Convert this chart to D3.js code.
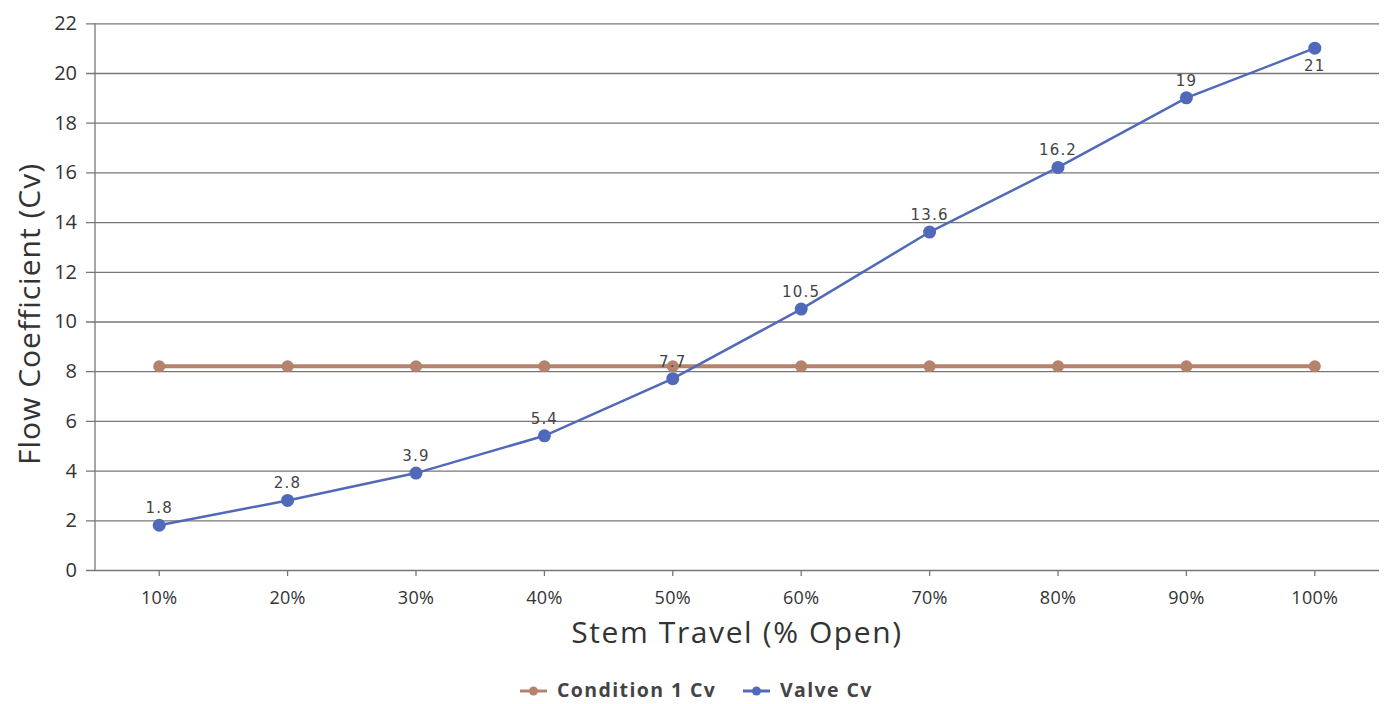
<!DOCTYPE html>
<html><head><meta charset="utf-8">
<script src="https://cdn.jsdelivr.net/npm/d3@7"></script>
<style>body{margin:0;background:#fff;font-family:"Open Sans","Noto Sans",sans-serif;}</style>
</head><body>
<svg id="c" width="1386" height="704"></svg>
<script>
const categories = ["10%","20%","30%","40%","50%","60%","70%","80%","90%","100%"];
const condition1Cv = [8.2,8.2,8.2,8.2,8.2,8.2,8.2,8.2,8.2,8.2];
const valveCv = [1.8,2.8,3.9,5.4,7.7,10.5,13.6,16.2,19,21];
const yTicks = [0,2,4,6,8,10,12,14,16,18,20,22];
const seriesNames = ["Condition 1 Cv","Valve Cv"];
const colors = ["#b5826b","#5069b8"];

const svg = d3.select("#c");
const L=95,R=1379,T=23.3,B=570;
const x = d3.scaleBand().domain(categories).range([L,R]);
const y = d3.scaleLinear().domain([0,22]).range([B,T]);
const font='"Open Sans","Noto Sans",sans-serif';

// grid
const gy = svg.append("g").attr("transform",`translate(${L},0)`)
  .call(d3.axisLeft(y).tickValues(yTicks).tickSize(-(R-L)).tickPadding(10).tickSizeOuter(0));
gy.select(".domain").remove();
gy.selectAll(".tick line").attr("stroke","#777").attr("stroke-width",1.3).attr("x1",-9);
gy.selectAll(".tick text").attr("font-size",20).attr("fill","#333").attr("font-family",font).attr("x",-18);

// y axis line
svg.append("line").attr("x1",L).attr("x2",L).attr("y1",T).attr("y2",B).attr("stroke","#777").attr("stroke-width",1.3);

// x axis
const gx = svg.append("g").attr("transform",`translate(0,${B})`)
  .call(d3.axisBottom(x).tickSize(6).tickPadding(15).tickSizeOuter(0));
gx.select(".domain").remove();
gx.selectAll(".tick line").attr("stroke","#777").attr("stroke-width",1.3);
gx.selectAll(".tick text").attr("font-size",18).attr("fill","#333").attr("font-family",font).attr("letter-spacing",0.3);

// titles
svg.append("text").attr("x",737).attr("y",643).attr("text-anchor","middle")
  .attr("font-size",30).attr("letter-spacing",1.6).attr("fill","#333").attr("font-family",font).text("Stem Travel (% Open)");
svg.append("text").attr("transform",`translate(40,314) rotate(-90)`).attr("text-anchor","middle")
  .attr("font-size",30).attr("letter-spacing",1).attr("fill","#333").attr("font-family",font).text("Flow Coefficient (Cv)");

const cx = c => x(c)+x.bandwidth()/2;
const line = d3.line().x((d,i)=>cx(categories[i])).y(d=>y(d));

// condition series
svg.append("path").datum(condition1Cv).attr("d",line).attr("fill","none").attr("stroke",colors[0]).attr("stroke-width",4);
svg.selectAll(".c1").data(condition1Cv).enter().append("circle")
  .attr("cx",(d,i)=>cx(categories[i])).attr("cy",d=>y(d)).attr("r",6).attr("fill",colors[0]);

// valve series
svg.append("path").datum(valveCv).attr("d",line).attr("fill","none").attr("stroke",colors[1]).attr("stroke-width",2.5);
svg.selectAll(".v").data(valveCv).enter().append("circle")
  .attr("cx",(d,i)=>cx(categories[i])).attr("cy",d=>y(d)).attr("r",6.5).attr("fill",colors[1]);
svg.selectAll(".vl").data(valveCv).enter().append("text")
  .attr("x",(d,i)=>cx(categories[i]))
  .attr("y",(d,i)=> i===valveCv.length-1 ? y(d)+23 : y(d)-12)
  .attr("text-anchor","middle").attr("font-size",15).attr("letter-spacing",1.2).attr("fill","#444").attr("font-family","DejaVu Sans, sans-serif")
  .text(d=>d);

// legend
const leg = svg.append("g");
const items = [{n:seriesNames[0],c:colors[0],x:520},{n:seriesNames[1],c:colors[1],x:743}];
items.forEach(it=>{
  leg.append("line").attr("x1",it.x).attr("x2",it.x+27).attr("y1",691).attr("y2",691).attr("stroke",it.c).attr("stroke-width",3);
  leg.append("circle").attr("cx",it.x+13.5).attr("cy",691).attr("r",4.5).attr("fill",it.c);
  leg.append("text").attr("x",it.x+37).attr("y",697).attr("font-size",19.5).attr("font-weight","bold").attr("letter-spacing",1.4)
    .attr("fill","#444").attr("font-family",font).text(it.n);
});
</script>
</body></html>
